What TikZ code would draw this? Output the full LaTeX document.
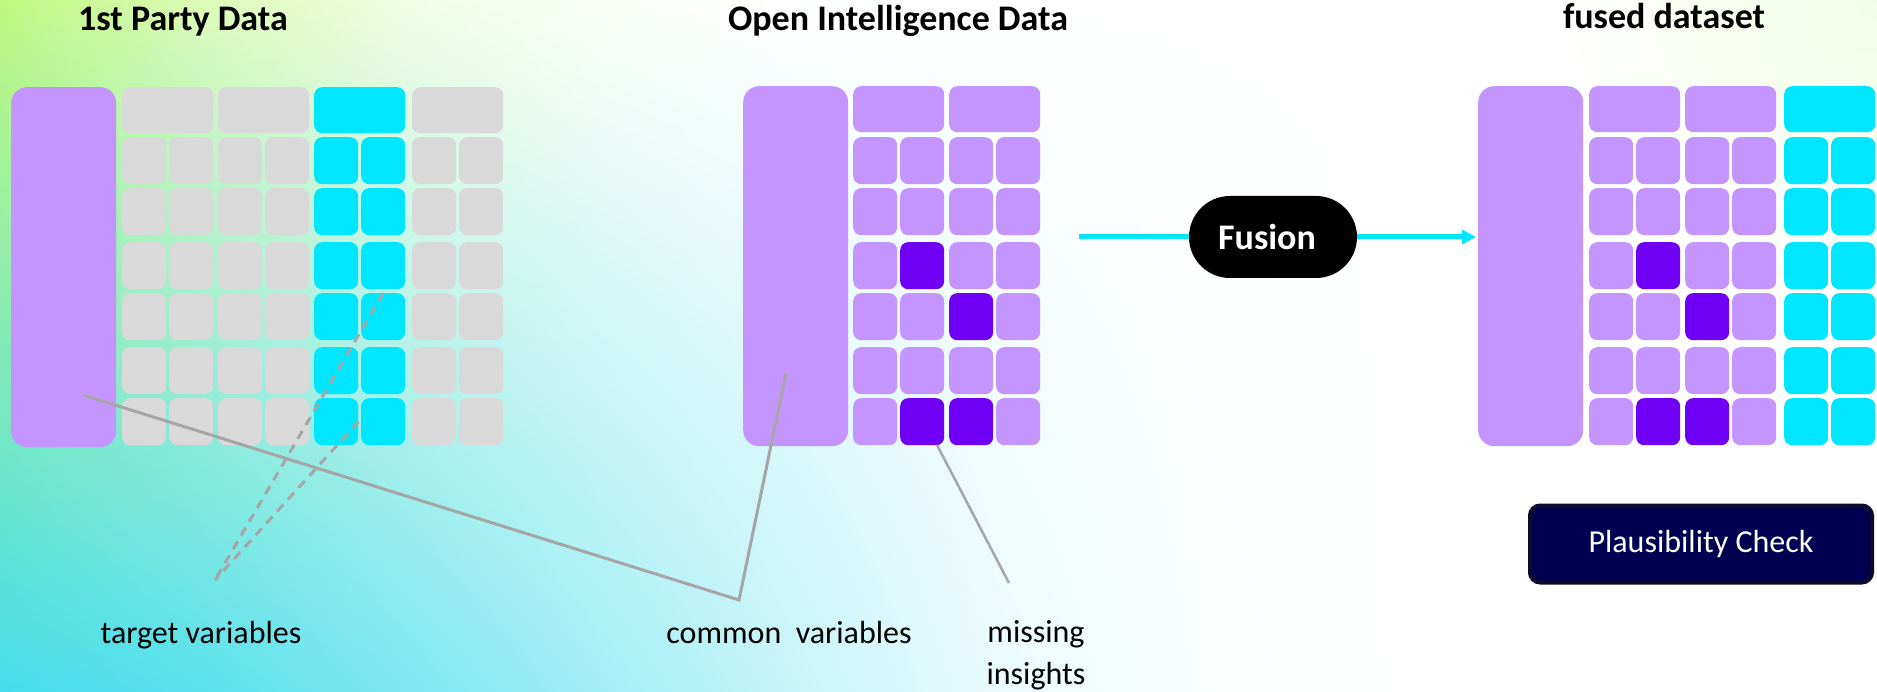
\documentclass[tikz,border=0pt]{standalone}
\usepackage{fontspec}
\setmainfont{Carlito}
\usetikzlibrary{positioning,arrows.meta,shadings}
\definecolor{lilac}{RGB}{196,149,255}
\definecolor{grape}{RGB}{112,0,245}
\definecolor{aqua}{RGB}{0,230,255}
\definecolor{cellgrey}{RGB}{217,217,217}
\definecolor{leadgrey}{RGB}{166,166,166}
\definecolor{navybox}{RGB}{0,0,82}
\definecolor{navyrim}{RGB}{12,10,40}
\definecolor{bglime}{RGB}{186,247,116}
\definecolor{bgcyan}{RGB}{68,221,236}

\begin{document}
\begin{tikzpicture}[x=1pt, y=-1pt,
    keycol/.style={rectangle, rounded corners=16pt, inner sep=0pt, anchor=north west, minimum width=105pt, minimum height=360pt, fill=lilac},
    headcell/.style={rectangle, rounded corners=8pt, inner sep=0pt, anchor=north west, minimum width=91pt, minimum height=46pt},
    cell/.style={rectangle, rounded corners=8pt, inner sep=0pt, anchor=north west, minimum width=44pt, minimum height=47pt},
    title/.style={font=\fontsize{36}{43}\selectfont\bfseries, anchor=base, inner sep=0pt},
    note/.style={font=\fontsize{32}{42}\selectfont, anchor=base, inner sep=0pt},
    leader/.style={draw=leadgrey, line width=3pt},
    hint/.style={draw=leadgrey, line width=3pt, dash pattern=on 9pt off 7pt},
    flow/.style={draw=aqua, line width=5pt},
    fusebox/.style={rectangle, rounded corners=41pt, fill=black, text=white, inner sep=0pt, minimum width=168pt, minimum height=82pt, font=\fontsize{36}{43}\selectfont\bfseries},
    checkbox/.style={rectangle, rounded corners=10pt, fill=navybox, draw=navyrim, line width=4pt, text=white, inner sep=0pt, minimum width=342pt, minimum height=77pt, font=\fontsize{32}{38}\selectfont}]

  \useasboundingbox (0,0) rectangle (1877,692);
  \foreach \xa/\xb/\ta/\tb/\ba/\bb in {0/200/92/52/100/88, 200/400/52/22/88/70, 400/600/22/6/70/50, 600/800/6/0/50/30, 800/1000/0/0/30/12, 1000/1200/0/0/12/3, 1200/1400/0/0/3/0}
    \shade[upper left=bglime!\ta!white, upper right=bglime!\tb!white, lower left=bgcyan!\ba!white, lower right=bgcyan!\bb!white] (\xa,0) rectangle ({\xb+1},692);
  \begin{scope}
    \clip (1200,0) rectangle (1877,692);
    \shade[inner color=bglime!20, outer color=white] (1877,0) circle (320);
  \end{scope}

  \node[title] (fp-title) at (183,31) {1st Party Data};
  \node[title] (oi-title) at (898,31) {Open Intelligence Data};
  \node[title] (fd-title) at (1664,29) {fused dataset};

  \node[keycol] (fp-key) at (11,87) {};
  \node[keycol] (oi-key) at (743,86) {};
  \node[keycol] (fd-key) at (1478,86) {};

  \foreach \g/\x/\c in {1/122/cellgrey, 2/218/cellgrey, 3/314/aqua, 4/412/cellgrey}
    \node[headcell, fill=\c] (fp-h\g) at (\x,87) {};
  \foreach \r/\y in {1/137, 2/188, 3/242, 4/293, 5/347, 6/398}
    \foreach \k/\x/\c in {1/122/cellgrey, 2/169/cellgrey, 3/218/cellgrey, 4/265/cellgrey, 5/314/aqua, 6/361/aqua, 7/412/cellgrey, 8/459/cellgrey}
      \node[cell, fill=\c] (fp-\r-\k) at (\x,\y) {};

  \foreach \g/\x in {1/853, 2/949}
    \node[headcell, fill=lilac] (oi-h\g) at (\x,86) {};
  \foreach \r/\y/\cb/\cc in {1/137/lilac/lilac, 2/188/lilac/lilac, 3/242/grape/lilac, 4/293/lilac/grape, 5/347/lilac/lilac, 6/398/grape/grape} {
    \node[cell, fill=lilac] (oi-\r-1) at (853,\y) {};
    \node[cell, fill=\cb] (oi-\r-2) at (900,\y) {};
    \node[cell, fill=\cc] (oi-\r-3) at (949,\y) {};
    \node[cell, fill=lilac] (oi-\r-4) at (996,\y) {};
  }

  \foreach \g/\x/\c in {1/1589/lilac, 2/1685/lilac, 3/1784/aqua}
    \node[headcell, fill=\c] (fd-h\g) at (\x,86) {};
  \foreach \r/\y/\cb/\cc in {1/137/lilac/lilac, 2/188/lilac/lilac, 3/242/grape/lilac, 4/293/lilac/grape, 5/347/lilac/lilac, 6/398/grape/grape} {
    \node[cell, fill=lilac] (fd-\r-1) at (1589,\y) {};
    \node[cell, fill=\cb] (fd-\r-2) at (1636,\y) {};
    \node[cell, fill=\cc] (fd-\r-3) at (1685,\y) {};
    \node[cell, fill=lilac] (fd-\r-4) at (1732,\y) {};
    \node[cell, fill=aqua] (fd-\r-5) at (1784,\y) {};
    \node[cell, fill=aqua] (fd-\r-6) at (1831,\y) {};
  }

  \coordinate (feed) at (1079,237);
  \node[fusebox] (fusion) at (1273,237) {Fusion\hspace*{12pt}};
  \draw[flow] (feed) -- (fusion);
  \draw[flow, -{Triangle[length=14pt, width=14pt]}, shorten >=2pt] (fusion) -- (fusion -| fd-key.west);

  \node[checkbox] (check) at (1701,544) {Plausibility Check};

  \node[note] (tv) at (201,643) {target variables};
  \node[note] (cv) at (789,643) {common\ \ variables};
  \node[note, align=center] (mi) at (1036,684) {missing\\insights};

  \coordinate (tv-pin) at (215,580);
  \coordinate (cv-pin) at (739,600);
  \coordinate (mi-pin) at (1009,583);
  \coordinate (fp-pin) at (83,395);
  \coordinate (oi-pin) at (786,373);

  \draw[leader] (fp-pin) -- (cv-pin) -- (oi-pin);
  \draw[leader, line width=2.5pt] ([xshift=15pt]oi-6-2.south) -- (mi-pin);
  \draw[hint] (fp-4-6.north) -- (tv-pin);
  \draw[hint] (fp-6-5.east) -- (tv-pin);

\end{tikzpicture}
\end{document}
